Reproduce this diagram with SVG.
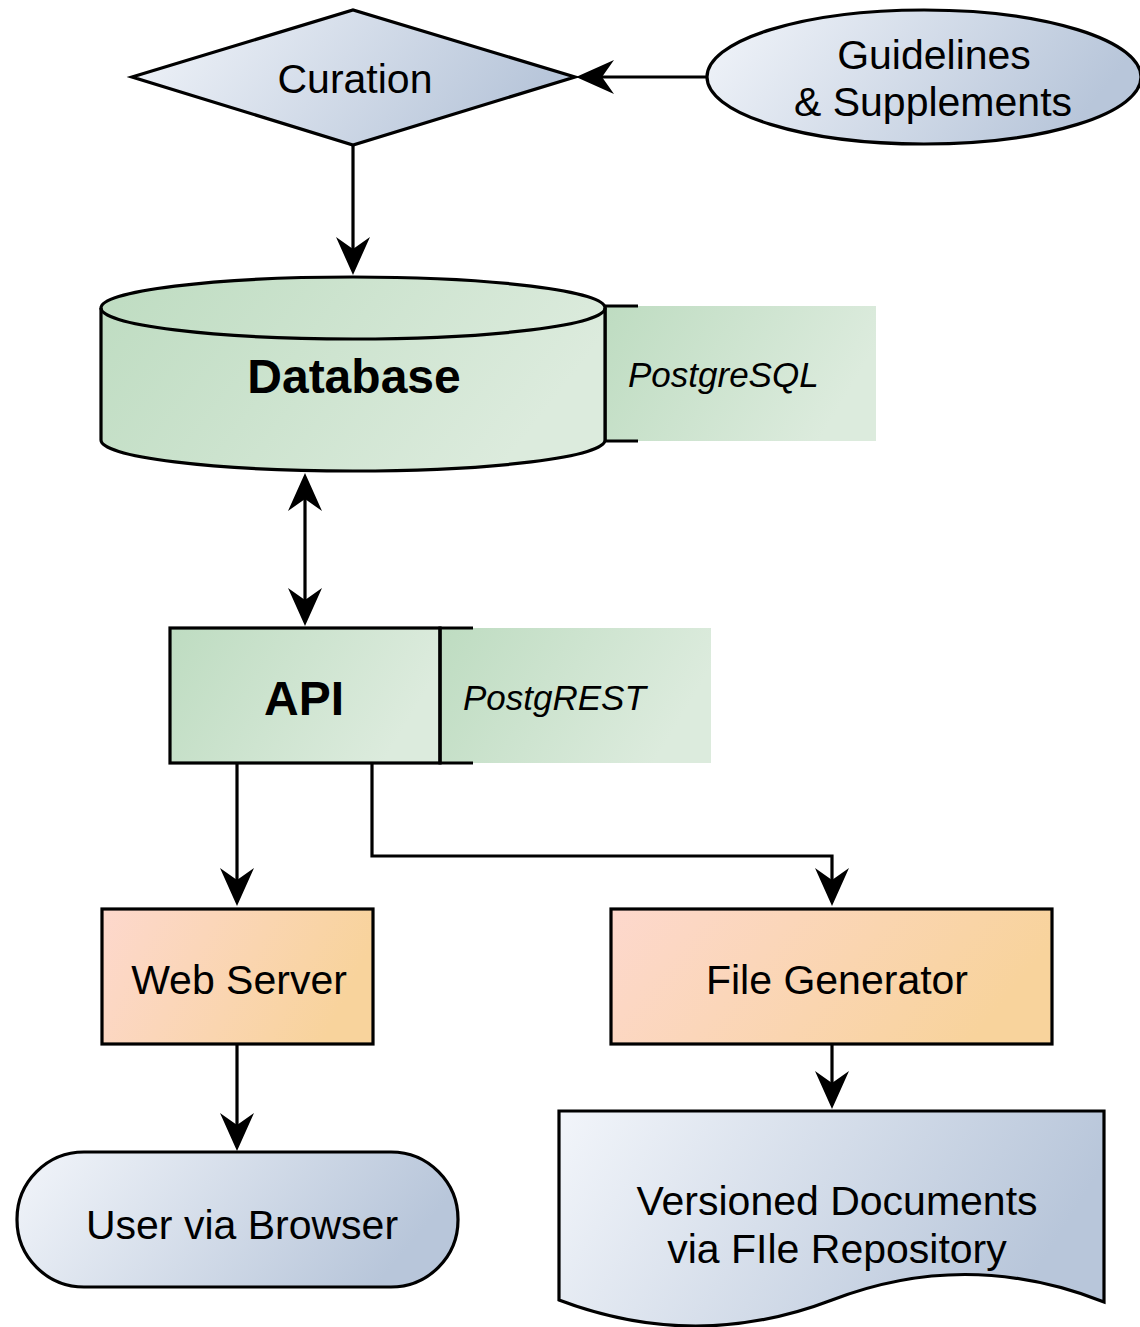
<svg xmlns="http://www.w3.org/2000/svg" width="1140" height="1327" viewBox="0 0 1140 1327">
  <defs>
    <linearGradient id="gBlue" x1="0" y1="0" x2="1" y2="0.25">
      <stop offset="0" stop-color="#f2f5fa"/>
      <stop offset="1" stop-color="#b8c6da"/>
    </linearGradient>
    <linearGradient id="gGreen" x1="0" y1="0" x2="1" y2="0.3">
      <stop offset="0" stop-color="#bedcc1"/>
      <stop offset="1" stop-color="#dcebdd"/>
    </linearGradient>
    <linearGradient id="gOrange" x1="0" y1="0" x2="1" y2="0.25">
      <stop offset="0" stop-color="#fdd8cd"/>
      <stop offset="1" stop-color="#f8d39c"/>
    </linearGradient>
    <marker id="arrow" viewBox="0 0 38 34" refX="28" refY="17" markerWidth="38" markerHeight="34" markerUnits="userSpaceOnUse" orient="auto-start-reverse">
      <path d="M38,17 L0,0 L12,17 L0,34 Z" fill="#000"/>
    </marker>
  </defs>
  <style>
    .shape { stroke: #000; stroke-width: 3.2; }
    .edge { fill: none; stroke: #000; stroke-width: 3.2; marker-end: url(#arrow); }
    .lbl { font-family: "Liberation Sans", Arial, sans-serif; font-size: 41px; fill: #000; text-anchor: middle; }
    .bold { font-weight: bold; font-size: 48px; }
    .tech { font-family: "Liberation Sans", Arial, sans-serif; font-style: italic; font-size: 35px; fill: #000; }
    .bracket { fill: none; stroke: #000; stroke-width: 3.2; }
  </style>

  <rect width="1140" height="1327" fill="#fff"/>

  <!-- connectors -->
  <g id="connectors">
    <path class="edge" d="M707,77 H586"/>
    <path class="edge" d="M353,145 V265"/>
    <path class="edge" d="M305,483 V616" marker-start="url(#arrow)"/>
    <path class="edge" d="M237,763 V896"/>
    <path class="edge" d="M372,763 V856 H832 V896"/>
    <path class="edge" d="M237,1044 V1141"/>
    <path class="edge" d="M832,1044 V1099"/>
  </g>

  <!-- decision: Curation -->
  <g id="curation">
    <polygon class="shape" fill="url(#gBlue)" points="132,77 353,10 575,77 353,145"/>
    <text class="lbl" x="355" y="93">Curation</text>
  </g>

  <!-- input: Guidelines & Supplements -->
  <g id="guidelines">
    <ellipse class="shape" fill="url(#gBlue)" cx="924" cy="77" rx="217" ry="67"/>
    <text class="lbl" x="934" y="69">Guidelines</text>
    <text class="lbl" x="933" y="116">&amp; Supplements</text>
  </g>

  <!-- storage: Database with PostgreSQL annotation -->
  <g id="database">
    <rect x="605" y="306" width="271" height="135" fill="url(#gGreen)"/>
    <path class="bracket" d="M638,306 H605 V441 H638"/>
    <path class="shape" fill="url(#gGreen)" d="M101,308 V440 A252,31 0 0 0 605,440 V308 A252,31 0 0 0 101,308 Z"/>
    <path class="shape" fill="none" d="M101,308 A252,31 0 0 0 605,308"/>
    <text class="lbl bold" x="354" y="393">Database</text>
    <text class="tech" x="628" y="387">PostgreSQL</text>
  </g>

  <!-- process: API with PostgREST annotation -->
  <g id="api">
    <rect x="440" y="628" width="271" height="135" fill="url(#gGreen)"/>
    <rect class="shape" x="170" y="628" width="270" height="135" fill="url(#gGreen)"/>
    <path class="bracket" d="M473,628 H440 V763 H473"/>
    <text class="lbl bold" x="304" y="715">API</text>
    <text class="tech" x="463" y="710">PostgREST</text>
  </g>

  <!-- process: Web Server -->
  <g id="web-server">
    <rect class="shape" x="102" y="909" width="271" height="135" fill="url(#gOrange)"/>
    <text class="lbl" x="239" y="994">Web Server</text>
  </g>

  <!-- process: File Generator -->
  <g id="file-generator">
    <rect class="shape" x="611" y="909" width="441" height="135" fill="url(#gOrange)"/>
    <text class="lbl" x="837" y="994">File Generator</text>
  </g>

  <!-- terminator: User via Browser -->
  <g id="user-browser">
    <rect class="shape" x="17" y="1152" width="441" height="135" rx="67" ry="67" fill="url(#gBlue)"/>
    <text class="lbl" x="242" y="1239">User via Browser</text>
  </g>

  <!-- document: Versioned Documents -->
  <g id="documents">
    <path class="shape" fill="url(#gBlue)" d="M559,1111 H1104 V1302 Q967,1248 832,1300 Q696,1352 559,1300 Z"/>
    <text class="lbl" x="837" y="1215">Versioned Documents</text>
    <text class="lbl" x="837" y="1263">via FIle Repository</text>
  </g>
</svg>
